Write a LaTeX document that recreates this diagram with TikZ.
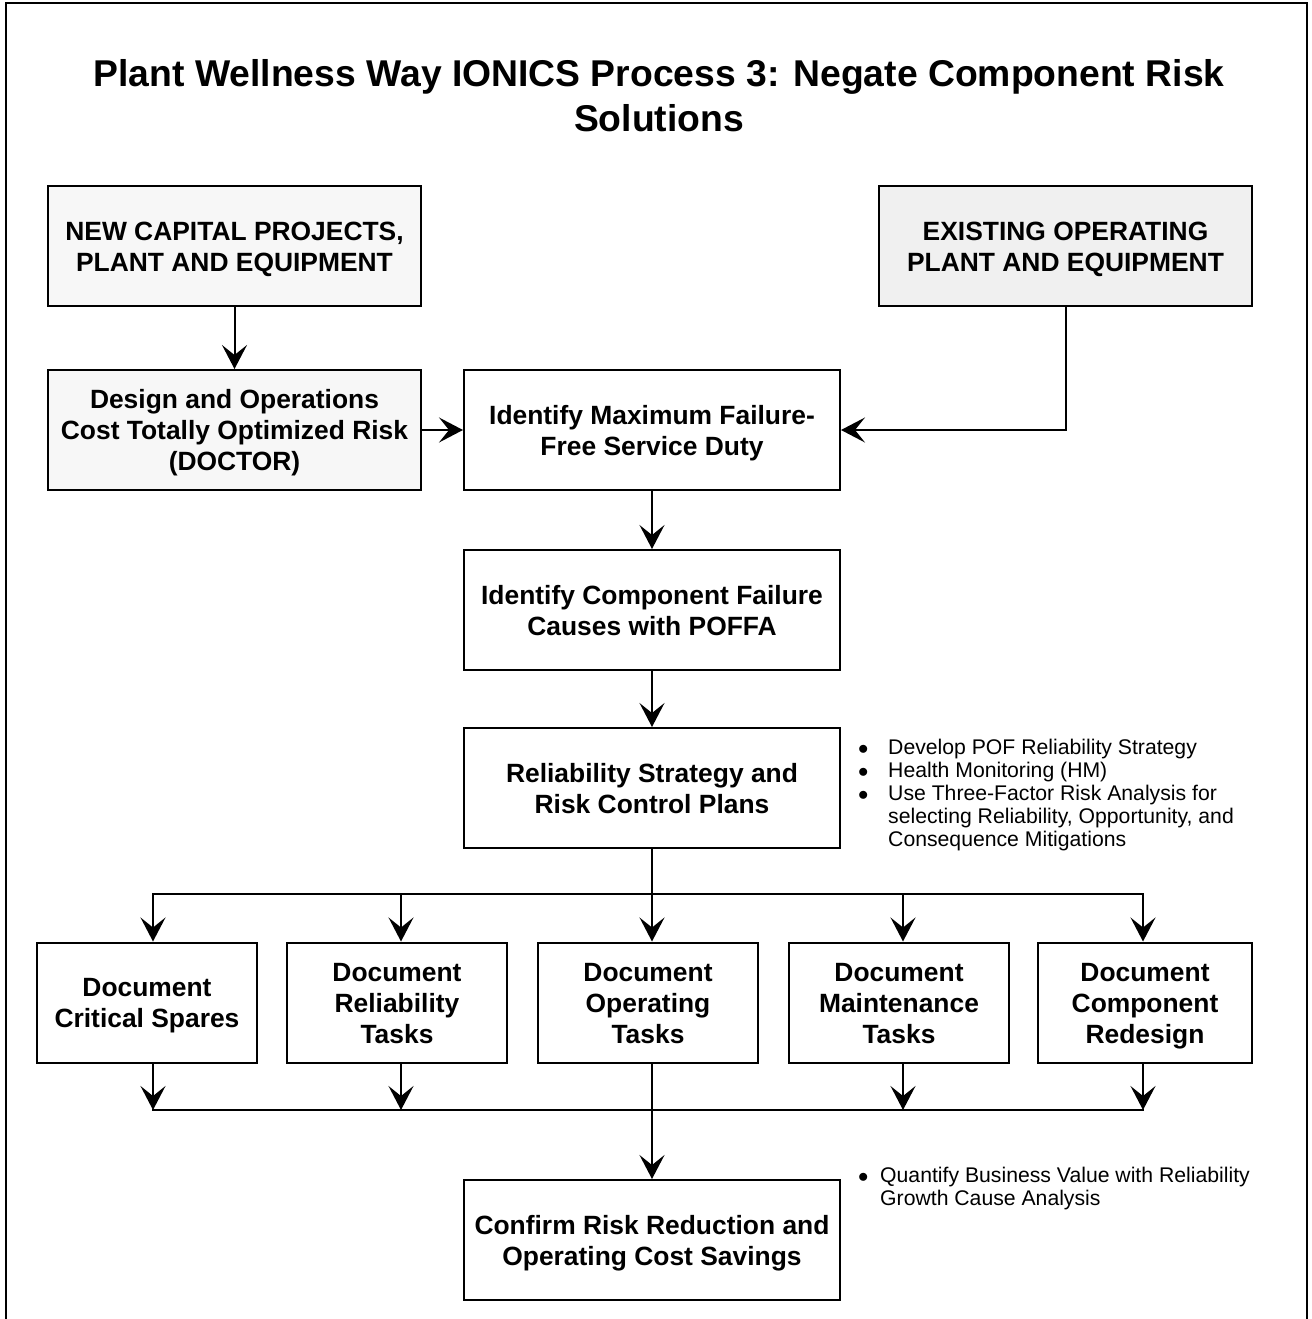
\documentclass[tikz,border=0pt]{standalone}
\usepackage{fontspec}
\setmainfont{Liberation Sans}
\usetikzlibrary{arrows.meta}
\definecolor{boxgrayA}{HTML}{F7F7F7}
\definecolor{boxgrayB}{HTML}{F0F0F0}
\newcommand\bul{\makebox[36pt][l]{\hspace{6pt}$\bullet$}}
\newcommand\bx[1]{\raisebox{-3.3pt}[\height][\depth]{\begin{tabular}{@{}c@{}}#1\end{tabular}}}
\begin{document}
\begin{tikzpicture}[x=1pt,y=-1pt,
  box/.style={draw, line width=2pt, minimum height=120pt, inner sep=0pt,
    font=\bfseries\fontsize{26.4}{31}\selectfont},
  conn/.style={line width=2pt, line cap=rect},
  arr/.style={line width=2pt, -{Stealth[length=24pt,width=25pt,inset=10pt]}},
  note/.style={anchor=north west, inner sep=0pt, font=\fontsize{21.2}{23}\selectfont}]
\useasboundingbox (0,0) rectangle (1311,1319);
\draw[line width=2.5pt] (6,1319) -- (6,3) -- (1307,3) -- (1307,1319);

\node[font=\bfseries\fontsize{37.3}{45}\selectfont, align=center, inner sep=0pt] (title) at (659,96)
  {Plant Wellness Way IONICS Process 3: Negate Component Risk\\Solutions};

\node[box, fill=boxgrayA, minimum width=373pt] (ncp) at (234.5,246) {\bx{NEW CAPITAL PROJECTS,\\PLANT AND EQUIPMENT}};
\node[box, fill=boxgrayB, minimum width=373pt] (eop) at (1065.5,246) {\bx{EXISTING OPERATING\\PLANT AND EQUIPMENT}};
\node[box, fill=boxgrayA, minimum width=373pt] (doc) at (234.5,430) {\bx{Design and Operations\\Cost Totally Optimized Risk\\(DOCTOR)}};
\node[box, minimum width=376pt] (imf) at (652,430) {\bx{Identify Maximum Failure-\\Free Service Duty}};
\node[box, minimum width=376pt] (icf) at (652,610) {\bx{Identify Component Failure\\Causes with POFFA}};
\node[box, minimum width=376pt] (rs) at (652,788) {\bx{Reliability Strategy and\\Risk Control Plans}};

\node[box, minimum width=220pt] (cs) at (147,1002.5) {\bx{Document\\Critical Spares}};
\node[box, minimum width=220pt] (rt) at (397,1002.5) {\bx{Document\\Reliability\\Tasks}};
\node[box, minimum width=220pt] (ot) at (648,1002.5) {\bx{Document\\Operating\\Tasks}};
\node[box, minimum width=220pt] (mt) at (899,1002.5) {\bx{Document\\Maintenance\\Tasks}};
\node[box, minimum width=214pt] (cr) at (1145,1002.5) {\bx{Document\\Component\\Redesign}};

\node[box, minimum width=376pt] (cf) at (652,1240) {\bx{Confirm Risk Reduction and\\Operating Cost Savings}};

\node[note] (n1) at (852,738) {\begin{tabular}{@{}l@{}l@{}}
\bul & Develop POF Reliability Strategy\\
\bul & Health Monitoring (HM)\\
\bul & Use Three-Factor Risk Analysis for\\
 & selecting Reliability, Opportunity, and\\
 & Consequence Mitigations
\end{tabular}};
\node[note] (n2) at (852,1166) {\begin{tabular}{@{}l@{}l@{}}
\makebox[28pt][l]{\hspace{6pt}$\bullet$} & Quantify Business Value with Reliability\\
 & Growth Cause Analysis
\end{tabular}};

\coordinate (b1) at (153,894);
\coordinate (b2) at (401,894);
\coordinate (b3) at (652,894);
\coordinate (b4) at (903,894);
\coordinate (b5) at (1143,894);
\coordinate (j1) at (153,1110);
\coordinate (j2) at (401,1110);
\coordinate (j3) at (652,1110);
\coordinate (j4) at (903,1110);
\coordinate (j5) at (1143,1110);

\draw[arr] (ncp) -- (doc);
\draw[arr] (doc) -- (imf);
\draw[arr] (eop.south) |- (imf.east);
\draw[arr] (imf) -- (icf);
\draw[arr] (icf) -- (rs);

\draw[arr] (rs.south) |- (b1) -- (b1 |- cs.north);
\draw[arr] (b3) -| (b5 |- cr.north);
\draw[arr] (b2) -- (b2 |- rt.north);
\draw[arr] (b3) -- (b3 |- ot.north);
\draw[arr] (b4) -- (b4 |- mt.north);

\draw[conn] (j1) -- (j5);
\draw[arr] (j1 |- cs.south) -- (j1);
\draw[arr] (j2 |- rt.south) -- (j2);
\draw[arr] (j4 |- mt.south) -- (j4);
\draw[arr] (j5 |- cr.south) -- (j5);
\draw[arr] (j3 |- ot.south) -- (cf.north);
\end{tikzpicture}
\end{document}
